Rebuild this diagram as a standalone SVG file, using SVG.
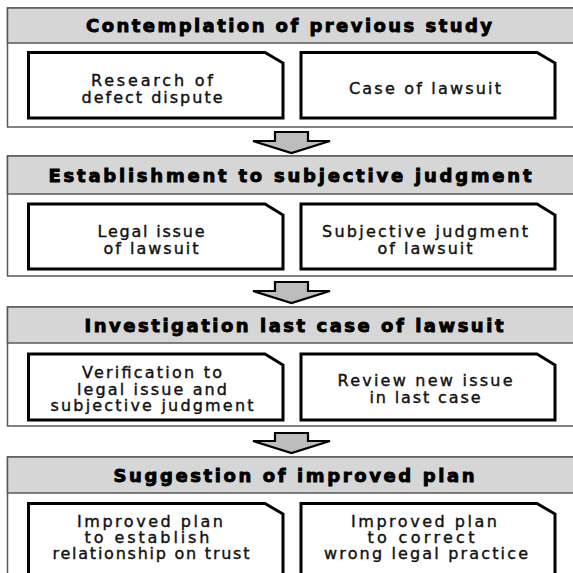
<svg xmlns="http://www.w3.org/2000/svg" width="573" height="573" viewBox="0 0 573 573">
<defs>
<style>
.sec{fill:#ffffff;stroke:#5a5a5a;stroke-width:1.5}
.hdr{fill:#d6d6d6;stroke:#5a5a5a;stroke-width:1.5}
.box{fill:#ffffff;stroke:#000000;stroke-width:3;stroke-linejoin:miter}
.ht{font-family:"DejaVu Sans","Liberation Sans",sans-serif;font-weight:bold;font-size:18px;fill:#000;stroke:#000;stroke-width:0.9;text-anchor:middle}
.bt{font-family:"DejaVu Sans","Liberation Sans",sans-serif;font-size:16px;fill:#111;stroke:#111;stroke-width:0.4;text-anchor:middle}
.arr{fill:#bdbdbd;stroke:#000;stroke-width:2.2;stroke-linejoin:miter}
</style>
</defs>
<rect width="573" height="573" fill="#ffffff"/>

<g id="stage1">
<rect class="sec" x="7.5" y="8" width="572" height="119"/>
<rect class="hdr" x="7.5" y="8" width="572" height="35"/>
<text class="ht" x="289" y="32" textLength="406" lengthAdjust="spacing">Contemplation of previous study</text>
</g>
<g id="n1a">
<path class="box" d="M28.5,52.5 H265 L283,63 V118 H28.5 Z"/>
<text class="bt" x="152" y="86" textLength="122" lengthAdjust="spacing">Research of</text>
<text class="bt" x="152" y="103" textLength="141" lengthAdjust="spacing">defect dispute</text>
</g>
<g id="n1b">
<path class="box" d="M301,52.5 H537 L555,63 V118 H301 Z"/>
<text class="bt" x="425" y="94" textLength="152" lengthAdjust="spacing">Case of lawsuit</text>
</g>

<g id="stage2">
<rect class="sec" x="7.5" y="156" width="572" height="120"/>
<rect class="hdr" x="7.5" y="156" width="572" height="38"/>
<text class="ht" x="290" y="182" textLength="483" lengthAdjust="spacing">Establishment to subjective judgment</text>
</g>
<g id="n2a">
<path class="box" d="M28.5,204 H265 L283,215 V269 H28.5 Z"/>
<text class="bt" x="151" y="237" textLength="107" lengthAdjust="spacing">Legal issue</text>
<text class="bt" x="151" y="254" textLength="95" lengthAdjust="spacing">of lawsuit</text>
</g>
<g id="n2b">
<path class="box" d="M301,204 H537 L555,215 V269 H301 Z"/>
<text class="bt" x="425" y="237" textLength="206" lengthAdjust="spacing">Subjective judgment</text>
<text class="bt" x="425" y="254" textLength="95" lengthAdjust="spacing">of lawsuit</text>
</g>

<g id="stage3">
<rect class="sec" x="7.5" y="307" width="572" height="119"/>
<rect class="hdr" x="7.5" y="307" width="572" height="36"/>
<text class="ht" x="294" y="332" textLength="419" lengthAdjust="spacing">Investigation last case of lawsuit</text>
</g>
<g id="n3a">
<path class="box" d="M28.5,354 H265 L283,365 V420 H28.5 Z"/>
<text class="bt" x="152" y="378" textLength="140" lengthAdjust="spacing">Verification to</text>
<text class="bt" x="152" y="394.5" textLength="150" lengthAdjust="spacing">legal issue and</text>
<text class="bt" x="152" y="411" textLength="203" lengthAdjust="spacing">subjective judgment</text>
</g>
<g id="n3b">
<path class="box" d="M301,354 H537 L555,365 V420 H301 Z"/>
<text class="bt" x="425" y="386" textLength="175" lengthAdjust="spacing">Review new issue</text>
<text class="bt" x="425" y="403" textLength="111" lengthAdjust="spacing">in last case</text>
</g>

<g id="stage4">
<rect class="sec" x="7.5" y="457" width="572" height="130"/>
<rect class="hdr" x="7.5" y="457" width="572" height="36"/>
<text class="ht" x="294" y="482" textLength="361" lengthAdjust="spacing">Suggestion of improved plan</text>
</g>
<g id="n4a">
<path class="box" d="M28.5,503.5 H265 L283,514 V580 H28.5 Z"/>
<text class="bt" x="150" y="527" textLength="146" lengthAdjust="spacing">Improved plan</text>
<text class="bt" x="147" y="543" textLength="125" lengthAdjust="spacing">to establish</text>
<text class="bt" x="151" y="559" textLength="197" lengthAdjust="spacing">relationship on trust</text>
</g>
<g id="n4b">
<path class="box" d="M301,503.5 H537 L555,514 V580 H301 Z"/>
<text class="bt" x="424" y="527" textLength="146" lengthAdjust="spacing">Improved plan</text>
<text class="bt" x="421" y="543" textLength="107" lengthAdjust="spacing">to correct</text>
<text class="bt" x="426" y="559" textLength="204" lengthAdjust="spacing">wrong legal practice</text>
</g>

<g id="connectors">
<path class="arr" d="M275,132 H308 V141 H330 L291.5,153 L253,141 H275 Z"/>
<path class="arr" d="M275,282 H308 V291 H330 L291.5,303 L253,291 H275 Z"/>
<path class="arr" d="M275,433 H308 V441 H330 L291.5,453 L253,441 H275 Z"/>
</g>
</svg>
